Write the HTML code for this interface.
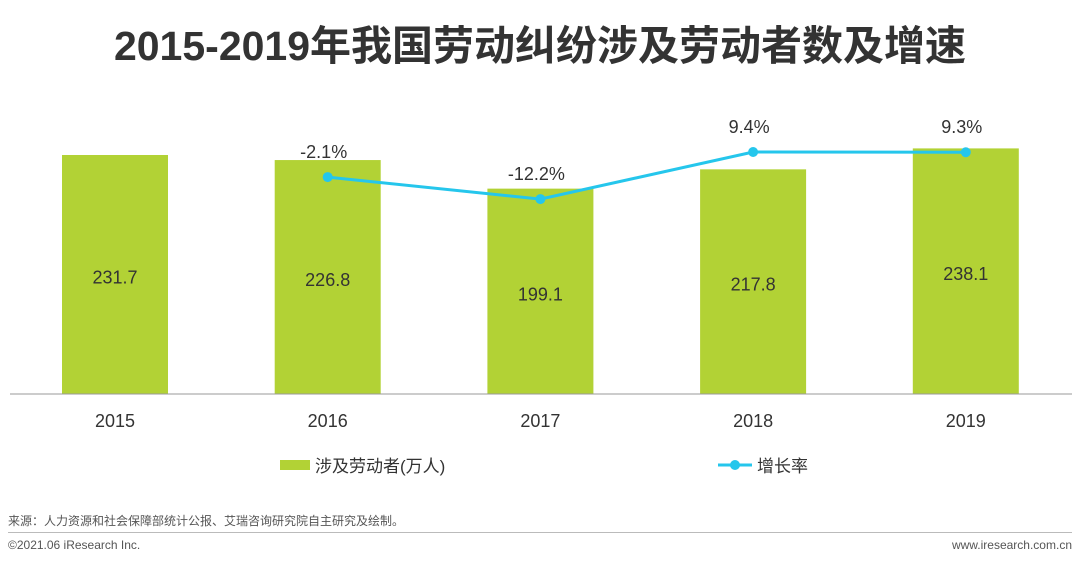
<!DOCTYPE html>
<html><head><meta charset="utf-8"><style>
body{margin:0;width:1080px;height:565px;background:#fff;overflow:hidden;font-family:"Liberation Sans","Noto Sans CJK SC",sans-serif;position:relative}
.t{position:absolute;white-space:nowrap}
</style></head><body>
<div class="t" style="left:0;width:1080px;text-align:center;top:12px;font-size:41px;font-weight:bold;color:#333">2015-2019年我国劳动纠纷涉及劳动者数及增速</div>
<svg id="c" width="1080" height="500" style="position:absolute;left:0;top:0"></svg>
<div class="t" style="left:8px;top:512px;font-size:12px;color:#555">来源：人力资源和社会保障部统计公报、艾瑞咨询研究院自主研究及绘制。</div>
<div style="position:absolute;left:8px;right:8px;top:532px;border-top:1px solid #bbb"></div>
<div class="t" style="left:8px;top:538px;font-size:12px;color:#555">©2021.06 iResearch Inc.</div>
<div class="t" style="right:8px;top:538px;font-size:12px;color:#555">www.iresearch.com.cn</div>
<script>
const categories=["2015","2016","2017","2018","2019"];
const workers=[231.7,226.8,199.1,217.8,238.1];
const growth=[null,-2.1,-12.2,9.4,9.3];
const growthLabels=["","-2.1%","-12.2%","9.4%","9.3%"];
const svg=document.getElementById('c');const NS="http://www.w3.org/2000/svg";
const base=394;
function xC(i){return 115+i*212.7;}
function yB(v){return base-v*1.0315;}
function yG(g){return 172.5-g*2.18;}
function mk(t,a,txt){const e=document.createElementNS(NS,t);for(const k in a)e.setAttribute(k,a[k]);if(txt!=null)e.textContent=txt;svg.appendChild(e);return e;}
categories.forEach((c,i)=>{
 const y=yB(workers[i]);
 const r=mk('rect',{x:xC(i)-53,y:y,width:106,height:base-y,fill:'#b2d235'});
 
 
 const t=mk('text',{x:xC(i),y:(y+base)/2+9,'text-anchor':'middle','font-size':18,fill:'#333'},workers[i].toFixed(1));
 
 
 const xl=mk('text',{x:xC(i),y:427,'text-anchor':'middle','font-size':18,fill:'#333'},c);
 
 
});
const ax=mk('line',{x1:10,x2:1072,y1:base,y2:base,stroke:'#999','stroke-width':1});


let pts=[];growth.forEach((g,i)=>{if(g!=null)pts.push(xC(i)+','+yG(g));});
const pl=mk('polyline',{points:pts.join(' '),fill:'none',stroke:'#25c6ec','stroke-width':3});


growth.forEach((g,i)=>{if(g==null)return;
 const d=mk('circle',{cx:xC(i),cy:yG(g),r:5,fill:'#25c6ec'});
 
 
 const t=mk('text',{x:xC(i)-4,y:yG(g)-19,'text-anchor':'middle','font-size':18,fill:'#333'},growthLabels[i]);
 
 
});
const l1=mk('rect',{x:280,y:460,width:30,height:10,fill:'#b2d235'});


const l1t=mk('text',{x:315,y:472,'font-size':17,fill:'#333'},'涉及劳动者(万人)');


const l2=mk('line',{x1:718,x2:752,y1:465,y2:465,stroke:'#25c6ec','stroke-width':3});


const l2d=mk('circle',{cx:735,cy:465,r:5,fill:'#25c6ec'});


const l2t=mk('text',{x:757,y:472,'font-size':17,fill:'#333'},'增长率');


</script>
</body></html>
